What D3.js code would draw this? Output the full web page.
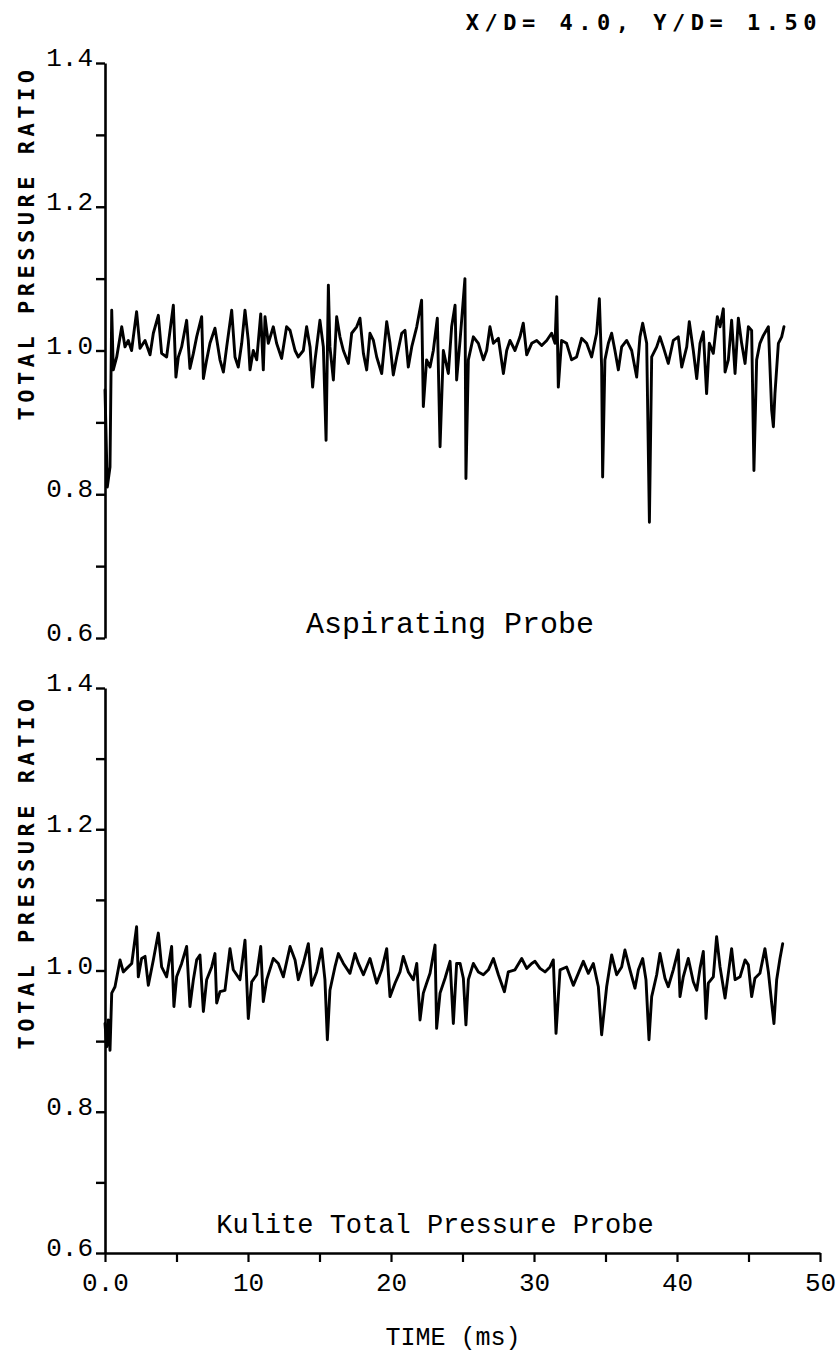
<!DOCTYPE html>
<html>
<head>
<meta charset="utf-8">
<script src="https://cdn.jsdelivr.net/npm/d3@7"></script>
<style>
  html, body { margin: 0; padding: 0; background: #fff; }
  svg { display: block; }
</style>
</head>
<body>
<svg id="chart" width="838" height="1353"></svg>
<script>
// ---------------- DATA ----------------
const titleText = "X/D= 4.0, Y/D= 1.50";
const yTitle = "TOTAL PRESSURE RATIO";
const xTitle = "TIME (ms)";
const topLabel = "Aspirating Probe";
const bottomLabel = "Kulite Total Pressure Probe";

const yTicks = [0.6, 0.7, 0.8, 0.9, 1.0, 1.1, 1.2, 1.3, 1.4];
const yTickLabels = ["0.6", "", "0.8", "", "1.0", "", "1.2", "", "1.4"];
const xTicks = [0, 5, 10, 15, 20, 25, 30, 35, 40, 45, 50];
const xTickLabels = ["0.0", "", "10", "", "20", "", "30", "", "40", "", "50"];

// Aspirating probe (ms, ratio)
const topTime = [0.00,0.16,0.35,0.47,0.58,0.82,1.17,1.40,1.63,1.86,2.21,2.45,2.80,3.15,3.38,3.73,3.96,4.31,4.55,4.78,4.96,5.13,5.36,5.71,5.94,6.18,6.41,6.76,6.88,7.11,7.34,7.69,8.04,8.28,8.51,8.86,9.09,9.32,9.56,9.79,10.02,10.14,10.37,10.61,10.89,11.07,11.19,11.42,11.77,12.00,12.35,12.70,12.94,13.29,13.52,13.87,14.10,14.34,14.52,14.69,15.03,15.27,15.46,15.62,15.73,15.97,16.20,16.43,16.67,17.02,17.25,17.60,17.83,18.07,18.30,18.53,18.77,19.00,19.35,19.70,19.93,20.16,20.40,20.75,20.98,21.21,21.45,21.80,22.14,22.26,22.49,22.73,22.96,23.24,23.43,23.66,24.01,24.24,24.48,24.59,24.83,25.17,25.24,25.41,25.76,26.11,26.46,26.69,26.92,27.16,27.51,27.86,28.09,28.32,28.67,29.02,29.25,29.49,29.84,30.19,30.54,30.89,31.23,31.47,31.59,31.70,31.93,32.28,32.63,32.98,33.33,33.68,34.03,34.38,34.57,34.73,34.80,34.96,35.20,35.43,35.66,35.90,36.13,36.48,36.83,37.18,37.41,37.60,37.88,38.07,38.23,38.58,38.81,39.04,39.39,39.74,40.09,40.33,40.68,40.86,41.14,41.38,41.61,41.84,42.07,42.26,42.54,42.82,43.01,43.24,43.36,43.59,43.82,44.06,44.29,44.52,44.76,44.99,45.22,45.38,45.57,45.80,46.04,46.39,46.62,46.74,46.85,47.09,47.32,47.48];
const topValue = [0.945,0.810,0.838,1.056,0.973,0.991,1.033,1.005,1.014,1.000,1.054,1.003,1.014,0.994,1.024,1.049,0.996,0.991,1.028,1.063,0.963,0.991,1.005,1.042,0.975,0.996,1.019,1.047,0.961,0.987,1.010,1.031,0.987,0.970,1.005,1.056,0.991,0.977,1.010,1.056,1.014,0.973,1.000,0.987,1.051,0.973,1.047,1.010,1.033,1.010,0.989,1.033,1.028,1.000,0.991,1.000,1.033,1.005,0.949,0.987,1.042,1.005,0.875,1.091,1.005,0.959,1.047,1.019,1.000,0.982,1.024,1.033,1.045,0.996,0.973,1.024,1.014,0.991,0.968,1.040,1.010,0.966,0.991,1.024,1.028,0.977,1.005,1.033,1.070,0.922,0.987,0.977,1.000,1.045,0.866,1.000,0.968,1.033,1.063,0.959,1.014,1.100,0.822,0.987,1.019,1.010,0.987,1.000,1.033,1.010,1.017,0.968,1.000,1.014,1.000,1.019,1.038,0.994,1.010,1.014,1.007,1.014,1.024,1.010,1.075,0.949,1.014,1.010,0.987,0.991,1.017,1.010,0.991,1.024,1.072,0.977,0.824,0.987,1.010,1.024,1.000,0.973,1.005,1.014,1.000,0.963,1.019,1.038,1.010,0.761,0.991,1.005,1.019,1.005,0.982,1.014,1.019,0.977,1.005,1.040,1.000,0.961,1.010,1.026,0.940,1.010,0.996,1.047,1.033,1.058,0.970,0.987,1.042,0.968,1.045,1.010,0.982,1.033,1.028,0.833,0.987,1.010,1.021,1.033,0.917,0.894,0.940,1.010,1.019,1.033];

// Kulite probe (ms, ratio)
const bottomTime = [0.00,0.12,0.23,0.35,0.47,0.70,1.05,1.28,1.52,1.87,2.21,2.33,2.56,2.80,3.03,3.38,3.73,3.96,4.31,4.66,4.82,5.01,5.36,5.71,5.94,6.18,6.41,6.64,6.88,7.11,7.46,7.69,7.81,8.04,8.39,8.74,8.97,9.44,9.79,10.02,10.26,10.61,10.89,11.07,11.31,11.77,12.12,12.47,12.94,13.29,13.52,13.87,14.22,14.45,14.80,15.15,15.38,15.55,15.73,16.08,16.32,16.67,17.13,17.48,17.72,18.07,18.53,19.00,19.35,19.70,19.93,20.28,20.63,20.86,21.21,21.56,21.80,22.03,22.26,22.49,22.73,23.08,23.19,23.43,23.78,24.13,24.36,24.59,24.83,25.06,25.24,25.41,25.76,26.11,26.46,26.81,27.16,27.51,27.93,28.20,28.67,29.14,29.49,29.84,30.07,30.42,30.77,31.12,31.35,31.54,31.82,32.28,32.75,33.10,33.45,33.80,34.15,34.50,34.73,35.08,35.43,35.78,36.13,36.36,36.71,37.06,37.30,37.60,37.83,38.04,38.23,38.58,38.81,39.16,39.39,39.74,40.09,40.21,40.44,40.79,41.14,41.38,41.61,41.84,42.03,42.19,42.54,42.77,43.01,43.36,43.59,43.82,44.06,44.41,44.76,44.99,45.22,45.45,45.80,46.15,46.39,46.62,46.78,46.97,47.20,47.39];
const bottomValue = [0.925,0.892,0.930,0.887,0.968,0.977,1.015,0.998,1.003,1.010,1.062,0.991,1.017,1.020,0.979,1.015,1.053,1.005,0.991,1.034,0.949,0.991,1.010,1.034,0.949,0.987,1.015,1.022,0.942,0.987,1.005,1.024,0.954,0.970,0.972,1.031,1.001,0.987,1.043,0.932,0.984,0.994,1.034,0.956,0.987,1.017,1.010,0.991,1.034,1.015,0.987,1.010,1.038,0.979,0.998,1.031,0.987,0.902,0.972,1.005,1.024,1.010,0.996,1.024,1.010,0.994,1.017,0.982,1.001,1.031,0.963,0.982,0.998,1.020,0.998,0.987,1.010,0.930,0.968,0.982,0.996,1.036,0.918,0.968,0.989,1.013,0.925,1.010,1.010,0.989,0.923,0.987,1.010,0.998,0.994,1.001,1.017,0.994,0.970,0.998,1.001,1.017,1.003,1.010,1.013,1.003,0.998,1.005,1.015,0.911,1.001,1.005,0.979,0.996,1.013,0.996,1.010,0.977,0.909,0.977,1.022,0.994,1.005,1.029,1.001,0.975,1.001,1.017,0.987,0.902,0.963,0.994,1.024,0.989,0.977,1.001,1.029,0.963,0.991,1.017,0.984,0.972,1.003,1.027,0.932,0.982,0.991,1.048,1.005,0.961,0.996,1.031,0.987,0.991,1.015,1.008,0.963,0.989,0.996,1.031,0.998,0.954,0.925,0.987,1.017,1.038];

// ---------------- DRAW ----------------
const svg = d3.select("#chart");
const typeFont = "'Liberation Mono', 'Courier New', monospace";
const plotFont = "'DejaVu Sans Mono', monospace";

const x = d3.scaleLinear().domain([0, 50]).range([105, 820]);

const panels = [
  { time: topTime, value: topValue, range: [638, 63], label: topLabel, labelX: 450, labelY: 633, labelSize: 30, titleY: 243, xAxis: false },
  { time: bottomTime, value: bottomValue, range: [1253, 688], label: bottomLabel, labelX: 435, labelY: 1233, labelSize: 27, titleY: 872, xAxis: true }
];

panels.forEach(p => {
  const y = d3.scaleLinear().domain([0.6, 1.4]).range(p.range);
  const g = svg.append("g");

  const yAxis = d3.axisLeft(y)
    .tickValues(yTicks)
    .tickSize(9)
    .tickSizeOuter(0)
    .tickPadding(3)
    .tickFormat((d, i) => yTickLabels[i]);
  const ya = g.append("g").attr("transform", `translate(${x(0)},0)`).call(yAxis);
  ya.select(".domain").attr("stroke", "#000").attr("stroke-width", 2.6);
  ya.selectAll(".tick line").attr("stroke", "#000").attr("stroke-width", 2.4);
  ya.selectAll(".tick text")
    .attr("font-family", typeFont).attr("font-size", 26).attr("fill", "#000")
    .attr("dy", "0.1em");

  if (p.xAxis) {
    const xAxis = d3.axisBottom(x)
      .tickValues(xTicks)
      .tickSize(9)
      .tickSizeOuter(0)
      .tickPadding(11)
      .tickFormat((d, i) => xTickLabels[i]);
    const xa = g.append("g").attr("transform", `translate(0,${p.range[0]})`).call(xAxis);
    xa.select(".domain").attr("stroke", "#000").attr("stroke-width", 2.6);
    xa.selectAll(".tick line").attr("stroke", "#000").attr("stroke-width", 2.2);
    xa.selectAll(".tick text")
      .attr("font-family", typeFont).attr("font-size", 26).attr("fill", "#000");
  }

  const data = p.time.map((t, i) => [t, p.value[i]]);
  const line = d3.line().x(d => x(d[0])).y(d => y(d[1]));
  g.append("path")
    .datum(data)
    .attr("d", line)
    .attr("fill", "none")
    .attr("stroke", "#000")
    .attr("stroke-width", 2.9)
    .attr("stroke-linejoin", "round")
    .attr("stroke-linecap", "round");

  g.append("text")
    .attr("x", p.labelX).attr("y", p.labelY)
    .attr("text-anchor", "middle")
    .attr("font-family", typeFont)
    .attr("font-size", p.labelSize)
    .attr("fill", "#000")
    .text(p.label);

  g.append("text")
    .attr("transform", `translate(34,${p.titleY}) rotate(-90)`)
    .attr("text-anchor", "middle")
    .attr("font-family", plotFont)
    .attr("font-weight", "bold")
    .attr("font-size", 22)
    .attr("letter-spacing", 4.5)
    .attr("fill", "#000")
    .text(yTitle);
});

svg.append("text")
  .attr("x", 822).attr("y", 30)
  .attr("text-anchor", "end")
  .attr("font-family", plotFont)
  .attr("font-weight", "bold")
  .attr("font-size", 22)
  .attr("letter-spacing", 5.5)
  .attr("fill", "#000")
  .text(titleText);

svg.append("text")
  .attr("x", 453).attr("y", 1345)
  .attr("text-anchor", "middle")
  .attr("font-family", typeFont)
  .attr("font-size", 25)
  .attr("fill", "#000")
  .text(xTitle);
</script>
</body>
</html>
